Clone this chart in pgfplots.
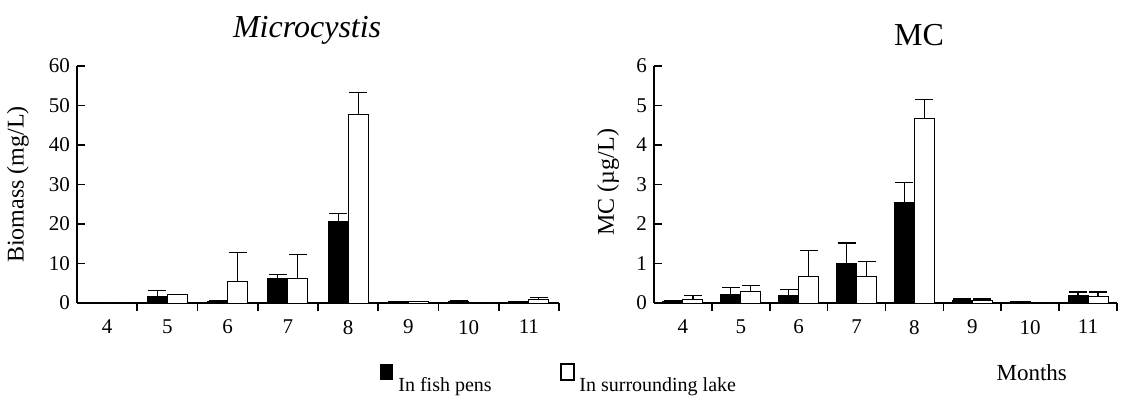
\documentclass[border=0pt]{standalone}
\usepackage{pgfplots}
\pgfplotsset{compat=1.18}
\usepackage{fontspec}
\setmainfont{Liberation Serif}
\pgfplotstableread{
m  fp    fpe   sl    sle
4  0     0     0     0
5  1.7   1.5   2.2   0
6  0.5   0     5.5   7.3
7  6.1   1.1   6.1   6.2
8  20.6  2.1   47.8  5.5
9  0.4   0     0.4   0
10 0.3   0.2   0     0
11 0.4   0     1.0   0.4
}\biomass
\pgfplotstableread{
m  fp    fpe   sl    sle
4  0.05  0     0.10  0.10
5  0.22  0.18  0.28  0.17
6  0.18  0.17  0.67  0.65
7  1.00  0.52  0.67  0.38
8  2.55  0.50  4.67  0.48
9  0.06  0.04  0.06  0.04
10 0.04  0     0     0
11 0.18  0.10  0.17  0.11
}\mcdata
\pgfplotsset{
  mystyle/.style={
    scale only axis,
    height=118.5pt,
    axis x line*=bottom,
    axis y line*=left,
    axis line style={-, line width=0.9pt},
    tick align=inside,
    xmin=3.5, xmax=11.5,
    ymin=0,
    xtick={4,...,11},
    minor xtick={4.5,5.5,...,11.5},
    major x tick style={draw=none},
    minor tick length=4pt,
    major tick length=4pt,
    tick style={line width=0.8pt, black},
    /pgf/number format/assume math mode=true,
    ticklabel style={font=\fontsize{10.5}{12}\selectfont},
    xticklabel style={yshift=-1pt},
    ylabel style={font=\fontsize{12}{14}\selectfont},
    ybar, bar width=10pt,
    every axis plot/.append style={draw=black, line width=0.5pt},
  },
  errs/.style={error bars/.cd, y dir=plus, y explicit,
    error mark=-,
    error mark options={rotate=90, mark size=4.5pt, line width=0.6pt, black},
    error bar style={line width=0.6pt, black}},
}
\begin{document}
\begin{tikzpicture}
\path[use as bounding box] (0,0) rectangle (565.5pt,-205.5pt);
\begin{axis}[mystyle, at={(38.5pt,-151.5pt)}, anchor=south west,
  width=241pt, ymax=60, ytick={0,10,...,60},
  ylabel={Biomass (mg/L)},
  ylabel style={at={(axis description cs:-0.1224,0.5)}, anchor=center, rotate=0}]
\addplot[fill=black, bar shift=-5pt, errs] table[x=m, y=fp, y error=fpe] {\biomass};
\addplot[fill=white, bar shift=5pt, errs] table[x=m, y=sl, y error=sle] {\biomass};
\end{axis}
\begin{axis}[mystyle, at={(327pt,-151.5pt)}, anchor=south west,
  width=231.5pt, ymax=6, ytick={0,...,6},
  ylabel={MC (µg/L)},
  ylabel style={at={(axis description cs:-0.099,0.51)}, anchor=center, rotate=0}]
\addplot[fill=black, bar shift=-5pt, errs] table[x=m, y=fp, y error=fpe] {\mcdata};
\addplot[fill=white, bar shift=5pt, errs] table[x=m, y=sl, y error=sle] {\mcdata};
\end{axis}
\node[anchor=base west, font=\fontsize{16}{18}\selectfont\itshape] at (113pt,-19pt) {Microcystis};
\node[anchor=base, font=\fontsize{16}{18}\selectfont] at (459.5pt,-23pt) {MC};
\node[anchor=base east, font=\fontsize{11.5}{14}\selectfont] at (537pt,-190.5pt) {Months};
\fill[black] (190pt,-182pt) rectangle (196.5pt,-190pt);
\draw[black, line width=0.6pt] (280.5pt,-182pt) rectangle (287pt,-190pt);
\node[anchor=base west, font=\fontsize{10}{12}\selectfont, inner sep=0pt] at (199pt,-196pt) {In fish pens};
\node[anchor=base west, font=\fontsize{10}{12}\selectfont, inner sep=0pt] at (289.5pt,-196pt) {In surrounding lake};
\end{tikzpicture}
\end{document}
